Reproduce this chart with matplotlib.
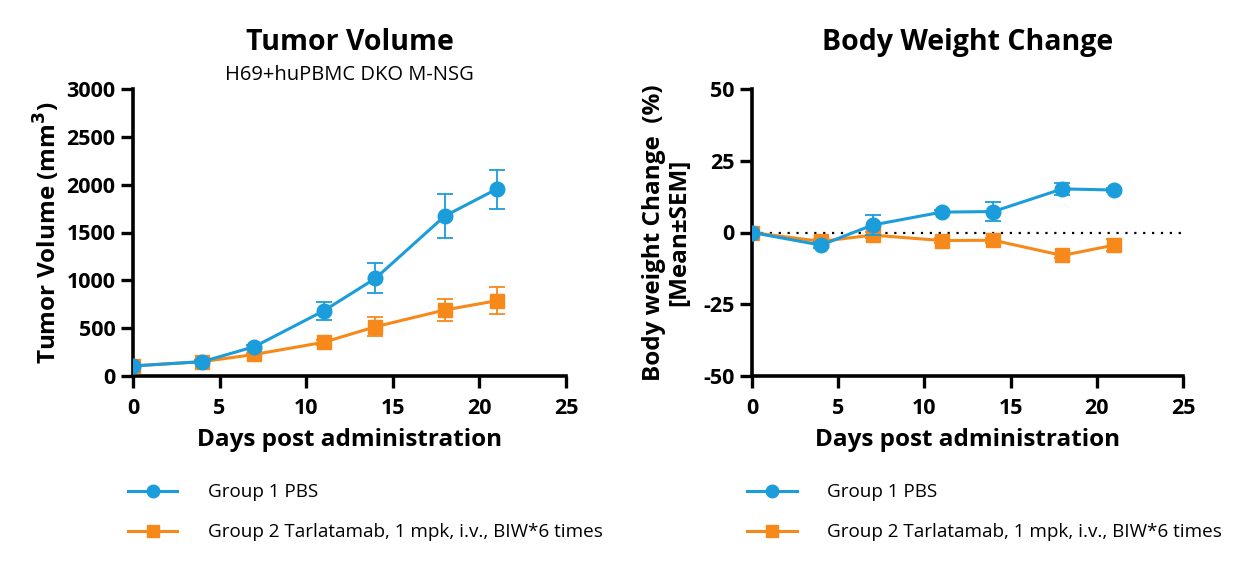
import numpy as np
import matplotlib
matplotlib.use('Agg')
import matplotlib.pyplot as plt
from matplotlib.lines import Line2D

plt.rcParams['font.family'] = ['Open Sans', 'DejaVu Sans']
plt.rcParams['axes.unicode_minus'] = False

days = [0, 4, 7, 11, 14, 18, 21]

# 肿瘤体积 mean / sem
tv_g1 = [105, 150, 306, 680, 1021, 1672, 1954]
tv_g1_err = [15, 15, 20, 90, 155, 228, 204]
tv_g2 = [105, 150, 225, 352, 515, 690, 787]
tv_g2_err = [15, 15, 20, 25, 100, 118, 141]

# 体重变化 mean / sem
bw_g1 = [0, -4.4, 2.6, 7.1, 7.3, 15.2, 14.8]
bw_g1_err = [0.5, 1.0, 3.5, 0.8, 3.3, 2.1, 0.8]
bw_g2 = [0, -3.1, -0.9, -2.8, -2.7, -8.0, -4.4]
bw_g2_err = [0.5, 0.8, 1.0, 0.8, 0.8, 1.0, 2.0]

labels = ['Group 1 PBS', 'Group 2 Tarlatamab, 1 mpk, i.v., BIW*6 times']
c_blue = '#1b9ddb'
c_orange = '#f7891a'

fig = plt.figure(figsize=(12.56, 5.67), dpi=100)
ax1 = fig.add_axes([133/1256, 1-376/567, 433/1256, 287/567])
ax2 = fig.add_axes([752/1256, 1-376/567, 431/1256, 287/567])


def draw(ax, y1, e1, y2, e2):
    ax.errorbar(days, y2, yerr=e2, color=c_orange, marker='s', ms=10, lw=2.2,
                elinewidth=1.3, capsize=6, capthick=1.3, zorder=3)
    ax.errorbar(days, y1, yerr=e1, color=c_blue, marker='o', ms=10.5, lw=2.2,
                elinewidth=1.3, capsize=6, capthick=1.3, zorder=4)
    ax.set_xlim(0, 25)
    ax.set_xticks([0, 5, 10, 15, 20, 25])
    for s in ['top', 'right']:
        ax.spines[s].set_visible(False)
    for s in ['left', 'bottom']:
        ax.spines[s].set_linewidth(2.6)
        ax.spines[s].set_clip_on(False)
    ax.tick_params(width=2.4, length=8.5, labelsize=15.5)
    ax.tick_params(axis='x', pad=7)
    ax.tick_params(axis='y', pad=4)
    ax.set_xlabel('Days post administration', fontsize=17.5, fontweight='bold', labelpad=7)


draw(ax1, tv_g1, tv_g1_err, tv_g2, tv_g2_err)
ax1.set_ylim(0, 3000)
ax1.set_yticks(range(0, 3001, 500))
ax1.set_ylabel('Tumor Volume (mm$^\\mathbf{3}$)', fontsize=17.5, fontweight='bold', labelpad=3)
ax1.text(0.5, 1.135, 'Tumor Volume', transform=ax1.transAxes, ha='center',
         fontsize=20.5, fontweight='bold')
ax1.text(0.5, 1.03, 'H69+huPBMC DKO M-NSG', transform=ax1.transAxes, ha='center',
         fontsize=14.5)

ax2.axhline(0, color='black', ls=(0, (1, 3)), lw=1.6, zorder=1)
draw(ax2, bw_g1, bw_g1_err, bw_g2, bw_g2_err)
ax2.set_ylim(-50, 50)
ax2.set_yticks([-50, -25, 0, 25, 50])
ax2.set_ylabel('Body weight Change  (%)\n[Mean±SEM]', fontsize=17.5, fontweight='bold',
               labelpad=9, linespacing=1.05)
ax2.text(0.5, 1.135, 'Body Weight Change', transform=ax2.transAxes, ha='center',
         fontsize=20.5, fontweight='bold')

for ax in [ax1, ax2]:
    for t in ax.get_xticklabels() + ax.get_yticklabels():
        t.set_fontweight('bold')

handles = [Line2D([], [], color=c_blue, marker='o', ms=9, lw=2.2),
           Line2D([], [], color=c_orange, marker='s', ms=9, lw=2.2)]
for ax in [ax1, ax2]:
    ax.legend(handles, labels, loc='upper left', bbox_to_anchor=(-0.05, -0.315),
              frameon=False, fontsize=13.6, handlelength=2.6, handletextpad=1.6,
              labelspacing=1.15)

fig.savefig('out.png', dpi=100)
